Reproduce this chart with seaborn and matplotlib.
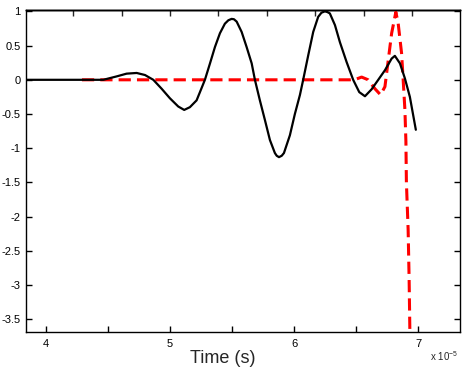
import numpy as np
import pandas as pd
import matplotlib
matplotlib.use("Agg")
import matplotlib.pyplot as plt
import seaborn as sns

# time in units of 1e-5 s
t_black = [3.839, 4.000, 4.355, 4.462, 4.570, 4.650, 4.731, 4.798, 4.865, 4.932,
           4.999, 5.066, 5.114, 5.160, 5.214, 5.241, 5.281, 5.322, 5.362, 5.402,
           5.442, 5.470, 5.496, 5.515, 5.537, 5.577, 5.617, 5.658, 5.684, 5.724,
           5.765, 5.805, 5.845, 5.860, 5.878, 5.900, 5.918, 5.966, 6.006, 6.047,
           6.073, 6.114, 6.154, 6.194, 6.220, 6.248, 6.268, 6.288, 6.329, 6.369,
           6.423, 6.476, 6.525, 6.571, 6.624, 6.678, 6.732, 6.786, 6.812, 6.853,
           6.893, 6.933, 6.981]
v_black = [0.0, 0.0, 0.0, 0.0, 0.05, 0.09, 0.10, 0.07, 0.0, -0.13,
           -0.27, -0.39, -0.44, -0.40, -0.30, -0.18, 0.0, 0.24, 0.48, 0.68,
           0.82, 0.87, 0.89, 0.885, 0.85, 0.70, 0.48, 0.24, 0.0, -0.30,
           -0.59, -0.88, -1.07, -1.11, -1.13, -1.11, -1.07, -0.81, -0.50, -0.22,
           0.0, 0.36, 0.70, 0.92, 0.98, 1.0, 0.99, 0.97, 0.80, 0.55,
           0.26, 0.0, -0.18, -0.24, -0.14, 0.0, 0.14, 0.31, 0.35, 0.24,
           0.02, -0.25, -0.73]

t_red = [4.29, 6.45, 6.50, 6.544, 6.597, 6.651, 6.697, 6.732, 6.759, 6.786,
         6.820, 6.839, 6.866, 6.879, 6.893, 6.901, 6.905, 6.919, 6.927, 6.933, 6.937]
v_red = [0.0, 0.0, 0.01, 0.04, 0.0, -0.13, -0.22, -0.10, 0.29, 0.68,
         0.99, 0.82, 0.39, 0.0, -0.44, -0.9, -1.5, -2.19, -2.92, -3.68, -4.2]

y_ticks = [1, 0.5, 0, -0.5, -1, -1.5, -2, -2.5, -3, -3.5]
x_ticks = [4, 4.5, 5, 5.5, 6, 6.5, 7]
x_labels = ["4", "", "5", "", "6", "", "7"]

df_b = pd.DataFrame({"t": t_black, "v": v_black})
df_r = pd.DataFrame({"t": t_red, "v": v_red})

sns.set_style("ticks")
plt.rcParams["font.family"] = ["Liberation Sans", "DejaVu Sans"]
plt.rcParams["axes.unicode_minus"] = False

fig = plt.figure(figsize=(4.71, 3.72), dpi=100)
ax = fig.add_axes([26 / 471, 1 - 332 / 372, 434 / 471, 322 / 372])

sns.lineplot(data=df_r, x="t", y="v", ax=ax, color="#ff0000", lw=2.2,
             sort=False, estimator=None, zorder=2)
ax.lines[-1].set_dashes((4, 2))
sns.lineplot(data=df_b, x="t", y="v", ax=ax, color="black", lw=1.6,
             sort=False, estimator=None, zorder=3)

ax.set_xlim(3.839, 7.337)
ax.set_ylim(-3.685, 1.02)
ax.set_xticks(x_ticks)
ax.set_xticklabels(x_labels)
ax.set_yticks(y_ticks)
ax.set_yticklabels([("%g" % v) for v in y_ticks])
ax.tick_params(direction="in", length=4, width=1, labelsize=8, colors="black",
               right=True, pad=4)
ax.tick_params(axis="x", pad=5)

top = ax.secondary_xaxis("top")
top.set_xticks(5.0 + 0.39 * np.arange(-2, 6))
top.set_xticklabels([])
top.tick_params(direction="in", length=4, width=1)

for s in list(ax.spines.values()) + list(top.spines.values()):
    s.set_linewidth(1.0)
    s.set_color("black")
    s.set_visible(True)

ax.set_xlabel("Time (s)", fontsize=13, labelpad=2)
ax.xaxis.set_label_coords(0.454, -0.055, transform=ax.transAxes)
ax.xaxis.label.set_va("top")
ax.set_ylabel("")

fig.text(430 / 471, 1 - 356 / 372, r"x 10$^{\mathregular{-5}}$", fontsize=7,
         ha="left", va="center")

fig.savefig("out.png", dpi=100)
